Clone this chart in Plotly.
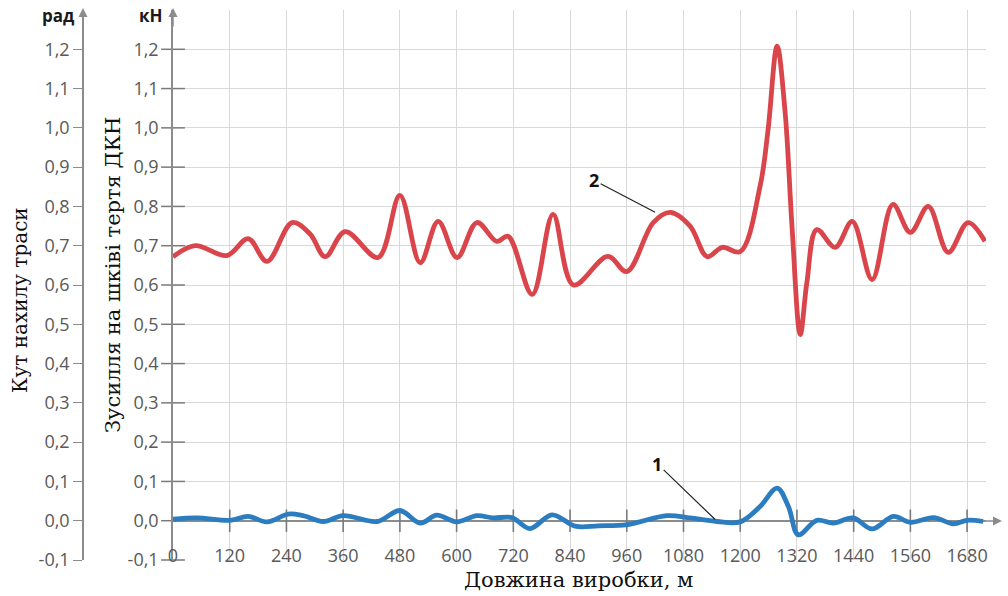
import plotly.graph_objects as go

# ---- data ----
x_force = [0, 47, 114, 159, 199, 252, 290, 322, 364, 434, 480, 523, 561, 601, 643, 685, 709,
           760, 804, 847, 920, 960, 1016, 1052, 1094, 1130, 1162, 1200, 1242, 1259, 1278, 1295,
           1310, 1327, 1341, 1362, 1401, 1437, 1479, 1523, 1560, 1598, 1640, 1682, 1718]
y_force = [0.672, 0.700, 0.675, 0.718, 0.660, 0.759, 0.730, 0.672, 0.736, 0.670, 0.828, 0.657, 0.762,
           0.670, 0.759, 0.711, 0.724, 0.576, 0.780, 0.600, 0.673, 0.634, 0.759, 0.785, 0.750,
           0.672, 0.696, 0.685, 0.851, 0.996, 1.208, 1.040, 0.741, 0.474, 0.606, 0.741, 0.696,
           0.762, 0.614, 0.805, 0.734, 0.800, 0.683, 0.759, 0.711]

x_angle = [0, 51, 121, 159, 199, 244, 275, 318, 360, 432, 480, 523, 558, 600, 643, 677, 717, 755,
           802, 851, 900, 961, 1045, 1094, 1151, 1200, 1242, 1278, 1302, 1323, 1362, 1397, 1439,
           1479, 1524, 1560, 1609, 1651, 1680, 1714]
y_angle = [0.004, 0.007, 0.001, 0.011, -0.003, 0.017, 0.013, -0.002, 0.013, -0.002, 0.026, -0.006,
           0.014, -0.003, 0.013, 0.007, 0.008, -0.020, 0.015, -0.014, -0.013, -0.010, 0.013, 0.007,
           -0.002, -0.003, 0.036, 0.083, 0.036, -0.036, 0.001, -0.006, 0.007, -0.021, 0.011,
           -0.004, 0.008, -0.008, 0.001, -0.002]

x_ticks = [0, 120, 240, 360, 480, 600, 720, 840, 960, 1080, 1200, 1320, 1440, 1560, 1680]
y_ticks = [-0.1, 0.0, 0.1, 0.2, 0.3, 0.4, 0.5, 0.6, 0.7, 0.8, 0.9, 1.0, 1.1, 1.2]
y_ticktext = ["-0,1", "0,0", "0,1", "0,2", "0,3", "0,4", "0,5", "0,6", "0,7", "0,8", "0,9",
              "1,0", "1,1", "1,2"]

RED = "#D9454A"
BLUE = "#2C7DC0"
AX = "#8C8C8C"
GRID = "#D9D9D9"
LBL = "#595959"
TICKFONT = dict(family="Open Sans", size=18, color=LBL)

W, H = 1008, 596
ML, MR, MT, MB = 20, 22, 10, 36
PW = W - ML - MR
PH = H - MT - MB
x0 = (173 - ML) / PW

fig = go.Figure()

# axis tick marks crossing the x axis (at y=0) and the inner y axis (at x=0)
fig.add_trace(go.Scatter(x=x_ticks[1:], y=[0] * (len(x_ticks) - 1), mode="markers",
                         marker=dict(symbol="line-ns-open", size=16, color="#7A7A7A",
                                     line=dict(color="#7A7A7A", width=1.6)),
                         hoverinfo="skip", showlegend=False, cliponaxis=False))
fig.add_trace(go.Scatter(x=[0] * len(y_ticks), y=y_ticks, mode="markers",
                         marker=dict(symbol="line-ew-open", size=17, color="#7A7A7A",
                                     line=dict(color="#7A7A7A", width=1.5)),
                         hoverinfo="skip", showlegend=False, cliponaxis=False))

fig.add_trace(go.Scatter(x=x_force, y=y_force, mode="lines",
                         line=dict(color=RED, width=4.8, shape="spline", smoothing=1.0),
                         showlegend=False))
fig.add_trace(go.Scatter(x=x_angle, y=y_angle, mode="lines",
                         line=dict(color=BLUE, width=4.8, shape="spline", smoothing=1.0),
                         showlegend=False))

fig.update_layout(
    width=W, height=H,
    margin=dict(l=ML, r=MR, t=MT, b=MB),
    paper_bgcolor="white", plot_bgcolor="white",
    xaxis=dict(domain=[x0, 1], range=[0, 1720], tickvals=x_ticks,
               ticktext=[str(v) for v in x_ticks],
               anchor="free", position=(560 - 543) / PH,
               ticks="", showline=False,
               showgrid=True, gridcolor=GRID, gridwidth=1, zeroline=False,
               tickfont=TICKFONT),
    yaxis=dict(range=[-0.1, 1.3], tickvals=y_ticks, ticktext=y_ticktext,
               showgrid=True, gridcolor=GRID, gridwidth=1,
               zeroline=True, zerolinecolor=AX, zerolinewidth=1.5,
               showline=True, linecolor=AX, linewidth=1.5, ticks="",
               ticklabelstandoff=9, tickfont=TICKFONT),
    yaxis2=dict(range=[-0.1, 1.3], tickvals=y_ticks, ticktext=y_ticktext,
                overlaying="y", anchor="free", position=(83 - ML) / PW, side="left",
                showgrid=False, zeroline=False, showline=True, linecolor=AX, linewidth=1.5,
                ticks="outside", ticklen=9, tickcolor=AX, tickwidth=1.3,
                tickfont=TICKFONT),
)

# dummy trace to show yaxis2
fig.add_trace(go.Scatter(x=[None], y=[None], yaxis="y2", showlegend=False, hoverinfo="skip"))

ann = []
# arrows on axes
ann.append(dict(xref="paper", yref="paper", x=(1002 - ML) / PW, y=(H - MB - 521) / PH,
                ax=-20, ay=0, showarrow=True, arrowhead=2, arrowsize=1.2, arrowwidth=1.5,
                arrowcolor=AX, text=""))
ann.append(dict(xref="paper", yref="paper", x=x0, y=(H - MB - 8) / PH,
                ax=0, ay=20, showarrow=True, arrowhead=2, arrowsize=1.2, arrowwidth=1.5,
                arrowcolor=AX, text=""))
ann.append(dict(xref="paper", yref="paper", x=(83 - ML) / PW, y=(H - MB - 8) / PH,
                ax=0, ay=20, showarrow=True, arrowhead=2, arrowsize=1.2, arrowwidth=1.5,
                arrowcolor=AX, text=""))
# unit labels
UNITFONT = dict(family="Open Sans", size=17, color="#1a1a1a")
ann.append(dict(xref="paper", yref="paper", x=(77 - ML) / PW, y=(H - MB - 16) / PH,
                text="<b>рад</b>", showarrow=False, xanchor="right", yanchor="middle",
                font=UNITFONT))
ann.append(dict(xref="paper", yref="paper", x=(165 - ML) / PW, y=(H - MB - 16) / PH,
                text="<b>кН</b>", showarrow=False, xanchor="right", yanchor="middle",
                font=UNITFONT))
# axis titles
SERIF = dict(family="DejaVu Serif", size=20, color="#111")
ann.append(dict(xref="paper", yref="paper", x=(20 - ML) / PW, y=(H - MB - 300) / PH,
                text="Кут нахилу траси", textangle=-90, showarrow=False,
                xanchor="center", yanchor="middle", font=SERIF))
ann.append(dict(xref="paper", yref="paper", x=(113 - ML) / PW, y=(H - MB - 275) / PH,
                text="Зусилля на шківі тертя ДКН", textangle=-90, showarrow=False,
                xanchor="center", yanchor="middle",
                font=dict(family="DejaVu Serif", size=21, color="#111")))
ann.append(dict(xref="paper", yref="paper", x=(578 - ML) / PW, y=(H - MB - 580) / PH,
                text="Довжина виробки, м", showarrow=False,
                xanchor="center", yanchor="middle",
                font=dict(family="DejaVu Serif", size=21, color="#111")))
# callouts
CALL = dict(family="Open Sans", size=18, color="#111")
ann.append(dict(x=1020, y=0.785, xref="x", yref="y", text="<b>2</b>", ax=-61, ay=-32,
                showarrow=True, arrowhead=0, arrowwidth=1.2, arrowcolor="#222", font=CALL))
ann.append(dict(x=1147, y=0.003, xref="x", yref="y", text="<b>1</b>", ax=-58, ay=-56,
                showarrow=True, arrowhead=0, arrowwidth=1.2, arrowcolor="#222", font=CALL))
fig.update_layout(annotations=ann)

fig.write_html("out.html")
